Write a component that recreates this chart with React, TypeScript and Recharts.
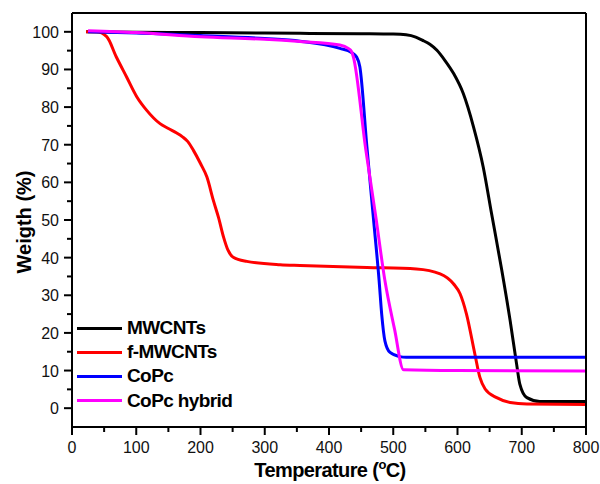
import React from 'react';
import { LineChart, Line, XAxis, YAxis, Label } from 'recharts';

// TGA curves (temperature in °C, weight in %)
const mwcntTemp = [22, 100, 200, 300, 355, 450, 500, 520, 535, 545, 557, 568, 580, 594, 609, 625, 640, 653, 669, 682, 692, 697, 708, 728, 800];
const mwcntWeight = [100, 99.9, 99.8, 99.7, 99.6, 99.5, 99.4, 99.2, 98.6, 97.8, 96.7, 95.1, 92.5, 88.9, 83.6, 74.7, 64.1, 51.7, 36.6, 23.2, 11.7, 6.4, 2.8, 1.8, 1.8];

const fmwcntTemp = [22, 38, 54, 69, 85, 101, 116, 137, 150, 163, 172, 180, 189, 200, 210, 220, 228, 236, 243, 251, 272, 324, 355, 459, 536, 573, 594, 604, 614, 627, 635, 643, 661, 682, 708, 800];
const fmwcntWeight = [100, 100, 98.7, 93.3, 88, 82.7, 79.2, 75.6, 74.3, 73.1, 72.1, 70.9, 68.5, 65, 61.4, 55.2, 50.7, 45.4, 41.9, 40.1, 39, 38.1, 37.9, 37.4, 37, 35.7, 33, 30.4, 25, 14.4, 8.1, 5.1, 2.8, 1.5, 1.1, 1.0];

const copcTemp = [25, 100, 200, 300, 355, 417, 435, 443, 448, 459, 469, 478, 482, 487, 495, 510, 520, 800];
const copcWeight = [100, 99.7, 99, 98.2, 97.5, 95.6, 94.5, 93.3, 90.7, 69.4, 50.7, 33.9, 25, 17.9, 14.8, 13.7, 13.5, 13.5];

const hybridTemp = [25, 100, 200, 300, 355, 417, 430, 435, 438, 457, 473, 487, 502, 516, 600, 800];
const hybridWeight = [100.3, 99.8, 98.7, 98, 97.4, 96.5, 95.6, 94.8, 93.3, 69, 50.7, 33.9, 21, 10.2, 10, 9.9];

const xMajor = [0, 100, 200, 300, 400, 500, 600, 700, 800];
const xTicks = [0, 50, 100, 150, 200, 250, 300, 350, 400, 450, 500, 550, 600, 650, 700, 750, 800];
const yMajor = [0, 10, 20, 30, 40, 50, 60, 70, 80, 90, 100];
const yTicks = [0, 5, 10, 15, 20, 25, 30, 35, 40, 45, 50, 55, 60, 65, 70, 75, 80, 85, 90, 95, 100];

const toPoints = (xs: number[], ys: number[]) => xs.map((t, i) => ({ t, w: ys[i] }));

const SERIES = [
    { name: 'MWCNTs', color: '#000000', data: toPoints(mwcntTemp, mwcntWeight) },
    { name: 'f-MWCNTs', color: '#ff0000', data: toPoints(fmwcntTemp, fmwcntWeight) },
    { name: 'CoPc', color: '#0000ff', data: toPoints(copcTemp, copcWeight) },
    { name: 'CoPc hybrid', color: '#ff00ff', data: toPoints(hybridTemp, hybridWeight) },
];

const FONT = 'Liberation Sans, Arial, sans-serif';

// tick marks drawn by hand so minor ticks can be shorter than major ones
const makeTick = (side: 'bottom' | 'top' | 'left' | 'right', major: number[], showLabel: boolean) => (props: any) => {
    const { x, y, payload } = props;
    const isMajor = major.includes(payload.value);
    const len = isMajor ? 8 : 5;
    let line;
    let label = null;
    if (side === 'bottom') {
        line = <line x1={x} y1={y} x2={x} y2={y + len} stroke="#000" strokeWidth={2} />;
        if (showLabel && isMajor) {
            label = <text x={x} y={y + 26} textAnchor="middle" fontSize={16} fontFamily={FONT} fill="#111">{payload.value}</text>;
        }
    } else if (side === 'top') {
        line = <line x1={x} y1={y} x2={x} y2={y - len} stroke="#000" strokeWidth={2} />;
    } else if (side === 'left') {
        line = <line x1={x} y1={y} x2={x - len} y2={y} stroke="#000" strokeWidth={2} />;
        if (showLabel && isMajor) {
            label = <text x={x - 13} y={y + 6} textAnchor="end" fontSize={16} fontFamily={FONT} fill="#111">{payload.value}</text>;
        }
    } else {
        line = <line x1={x} y1={y} x2={x + len} y2={y} stroke="#000" strokeWidth={2} />;
    }
    return <g>{line}{label}</g>;
};

const LegendBox = () => (
    <div style={{ position: 'absolute', left: 77, top: 316, fontFamily: FONT }}>
        {SERIES.map((s) => (
            <div key={s.name} style={{ display: 'flex', alignItems: 'center', height: 24.2 }}>
                <div style={{ width: 45, height: 3, background: s.color, marginRight: 5 }} />
                <span style={{ fontSize: 19, fontWeight: 'bold', letterSpacing: -0.6, color: '#000' }}>{s.name}</span>
            </div>
        ))}
    </div>
);

export default function App() {
    return (
        <div style={{ position: 'absolute', left: 0, top: 0, width: 600, height: 484, background: '#fff' }}>
            <LineChart width={600} height={484} margin={{ top: 12, right: 13, bottom: 0, left: 0 }}>
                <XAxis
                    xAxisId="bottom"
                    type="number"
                    dataKey="t"
                    domain={[0, 800]}
                    ticks={xTicks}
                    interval={0}
                    height={57}
                    tickSize={0}
                    tickMargin={0}
                    tickLine={false}
                    axisLine={{ stroke: '#000', strokeWidth: 2 }}
                    tick={makeTick('bottom', xMajor, true)}
                >
                    <Label
                        content={() => (
                            <text x={330} y={477} textAnchor="middle" fontSize={20} fontWeight="bold" fontFamily={FONT} letterSpacing={-0.6} fill="#000">
                                Temperature (<tspan fontSize={13} dy={-8}>o</tspan><tspan dy={8}>C)</tspan>
                            </text>
                        )}
                    />
                </XAxis>
                <XAxis
                    xAxisId="top"
                    orientation="top"
                    type="number"
                    dataKey="t"
                    domain={[0, 800]}
                    ticks={xTicks}
                    interval={0}
                    height={1}
                    tickSize={0}
                    tickMargin={0}
                    tickLine={false}
                    axisLine={{ stroke: '#000', strokeWidth: 2 }}
                    tick={makeTick('top', xMajor, false)}
                />
                <YAxis
                    yAxisId="left"
                    type="number"
                    domain={[-5, 105]}
                    ticks={yTicks}
                    interval={0}
                    width={72}
                    tickSize={0}
                    tickMargin={0}
                    tickLine={false}
                    axisLine={{ stroke: '#000', strokeWidth: 2 }}
                    tick={makeTick('left', yMajor, true)}
                >
                    <Label
                        content={() => (
                            <text x={31} y={222} transform="rotate(-90 31 222)" textAnchor="middle" fontSize={20} fontWeight="bold" fontFamily={FONT} fill="#000">
                                Weigth (%)
                            </text>
                        )}
                    />
                </YAxis>
                <YAxis
                    yAxisId="right"
                    orientation="right"
                    type="number"
                    domain={[-5, 105]}
                    ticks={yTicks}
                    interval={0}
                    width={1}
                    tickSize={0}
                    tickMargin={0}
                    tickLine={false}
                    axisLine={{ stroke: '#000', strokeWidth: 2 }}
                    tick={makeTick('right', yMajor, false)}
                />
                {SERIES.map((s) => (
                    <Line
                        key={s.name}
                        xAxisId="bottom"
                        yAxisId="left"
                        data={s.data}
                        dataKey="w"
                        name={s.name}
                        type="monotone"
                        stroke={s.color}
                        strokeWidth={3}
                        dot={false}
                        isAnimationActive={false}
                    />
                ))}
            </LineChart>
            <LegendBox />
        </div>
    );
}
